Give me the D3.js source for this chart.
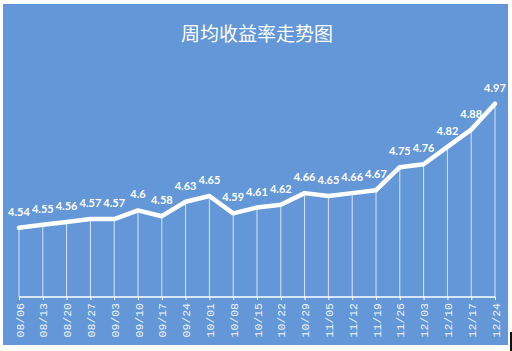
<!DOCTYPE html>
<html><head><meta charset="utf-8">
<script src="https://cdn.jsdelivr.net/npm/d3@7"></script>
<style>html,body{margin:0;padding:0;background:#fff;}svg{display:block;}</style>
</head><body>
<svg id="c" width="512" height="351"></svg>
<script>
const categories = ["08/06","08/13","08/20","08/27","09/03","09/10","09/17","09/24","10/01","10/08","10/15","10/22","10/29","11/05","11/12","11/19","11/26","12/03","12/10","12/17","12/24"];
const values = [4.54,4.55,4.56,4.57,4.57,4.6,4.58,4.63,4.65,4.59,4.61,4.62,4.66,4.65,4.66,4.67,4.75,4.76,4.82,4.88,4.97];
const title = "周均收益率走势图";
const yDomain = [4.3, 5.0];

const svg = d3.select("#c");
svg.append("rect").attr("x",3).attr("y",4).attr("width",505).attr("height",341).attr("fill","#6397d8");
svg.append("rect").attr("x",510).attr("y",332).attr("width",2).attr("height",19).attr("fill","#111");

svg.append("text").attr("x",257).attr("y",41).attr("text-anchor","middle")
  .attr("font-family","'Noto Sans CJK SC'").attr("font-size",19).attr("fill","#fff").text(title);

const x = d3.scalePoint().domain(categories).range([19,495]);
const y = d3.scaleLinear().domain(yDomain).range([297,95]);

const g = svg.append("g");
g.selectAll("line.drop").data(values).join("line").attr("class","drop")
  .attr("x1",(d,i)=>x(categories[i])).attr("x2",(d,i)=>x(categories[i]))
  .attr("y1",d=>y(d)).attr("y2",y(yDomain[0]))
  .attr("stroke","#fff").attr("stroke-opacity",0.75).attr("stroke-width",1);

const ax = svg.append("g").attr("transform",`translate(0,${y(yDomain[0])})`)
  .call(d3.axisBottom(x).tickSize(3).tickSizeOuter(0));
ax.attr("font-family",null).attr("font-size",null);
ax.select(".domain").attr("stroke","#fff").attr("stroke-width",1.5).attr("d",`M${x(categories[0])},0H${x(categories[categories.length-1])}`);
ax.selectAll(".tick line").attr("stroke","#fff");
ax.selectAll(".tick text").attr("fill","#fff").attr("fill-opacity",0.92)
  .style("font-family","'Liberation Mono'").style("font-size","11.5px").style("font-weight","normal")
  .attr("transform","rotate(-90)").attr("text-anchor","end").attr("x",-6).attr("y",0).attr("dy","0.35em");

g.append("path").datum(values)
  .attr("d",d3.line().x((d,i)=>x(categories[i])).y(d=>y(d)))
  .attr("fill","none").attr("stroke","#fff").attr("stroke-width",4.5).attr("stroke-linejoin","round").attr("stroke-linecap","round");

g.selectAll("text.lbl").data(values).join("text").attr("class","lbl")
  .attr("x",(d,i)=>x(categories[i])).attr("y",d=>y(d)-12)
  .attr("text-anchor","middle").attr("font-family","Lato").attr("font-weight","bold").attr("font-size",11)
  .attr("fill","#fff").text(d=>d);
</script>
</body></html>
